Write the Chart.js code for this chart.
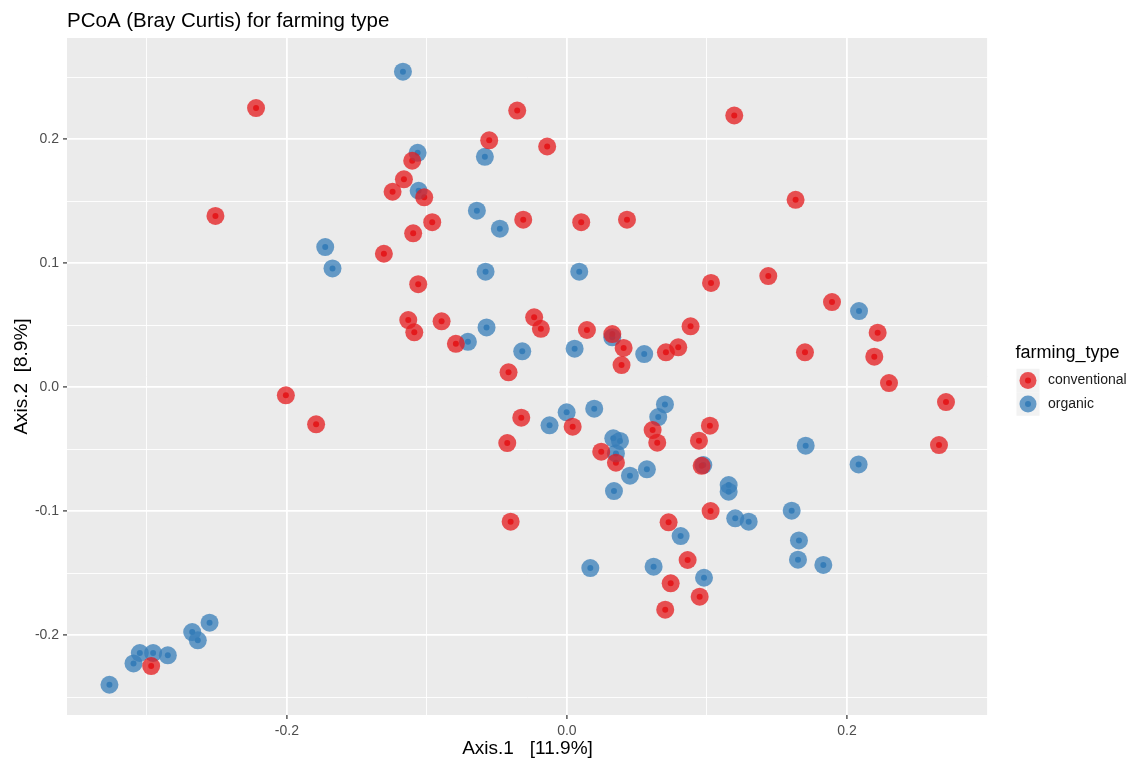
<!DOCTYPE html>
<html>
<head>
<meta charset="utf-8">
<title>PCoA (Bray Curtis) for farming type</title>
<script src="https://cdn.jsdelivr.net/npm/chart.js@4.4.1/dist/chart.umd.min.js"></script>
<style>
  html, body { margin: 0; padding: 0; background: #fff; }
  #wrap { width: 1137px; height: 763px; }
</style>
</head>
<body>
<div id="wrap"><canvas id="pcoa" width="1137" height="763"></canvas></div>
<script>
// PCoA coordinates
const groups = ["conventional", "organic"];

const convAxis1 = [-0.222, -0.251, -0.0355, 0.1195, -0.0555, -0.0141, -0.1105, -0.1164, -0.1245, -0.1019,
  -0.0962, -0.1098, -0.0312, 0.0102, 0.0429, -0.1307, -0.1062, 0.1029, 0.1438, 0.1633,
  0.1893, 0.2219, 0.2195, 0.23, 0.2707, 0.2657, 0.17, -0.1133, -0.109, -0.0895,
  -0.0793, -0.2007, -0.1791, -0.0234, -0.0186, -0.0417, 0.0143, 0.0324, 0.0405, 0.039,
  0.0707, 0.0795, 0.0883, -0.0326, 0.0041, -0.0426, 0.0245, 0.035, 0.0612, 0.0645,
  0.1021, 0.0943, 0.0962, 0.1026, 0.0726, -0.0402, 0.0862, 0.0741, 0.0948, 0.0702, -0.2969];
const convAxis2 = [0.225, 0.138, 0.223, 0.219, 0.199, 0.194, 0.1825, 0.1675, 0.1575, 0.153,
  0.133, 0.124, 0.135, 0.133, 0.135, 0.1075, 0.083, 0.084, 0.0895, 0.151,
  0.0685, 0.0438, 0.0245, 0.0032, -0.0121, -0.0468, 0.028, 0.054, 0.0441, 0.053,
  0.0349, -0.0067, -0.0301, 0.0562, 0.047, 0.0119, 0.046, 0.0427, 0.0315, 0.0177,
  0.028, 0.032, 0.049, -0.0247, -0.032, -0.0452, -0.0521, -0.061, -0.0347, -0.0449,
  -0.0312, -0.0433, -0.0635, -0.1, -0.1091, -0.1086, -0.1395, -0.1583, -0.1691, -0.1796, -0.225];

const orgAxis1 = [-0.1171, -0.1066, -0.1059, -0.0586, -0.0643, -0.0479, -0.0581, 0.0088, -0.1726, -0.1674,
  0.2086, -0.0707, -0.0574, -0.0319, 0.0324, 0.0055, 0.0552, -0.0124, -0.0002, 0.0195,
  0.0331, 0.0379, 0.035, 0.045, 0.0571, 0.0336, 0.07, 0.0652, 0.0974, 0.1155,
  0.1155, 0.1202, 0.1298, 0.1605, 0.1705, 0.2083, 0.1657, 0.165, 0.1831, 0.0812,
  0.0167, 0.0619, 0.0979, -0.3267, -0.3095, -0.305, -0.2955, -0.285, -0.2676, -0.2636, -0.2552];
const orgAxis2 = [0.2543, 0.1889, 0.1583, 0.1857, 0.1422, 0.1277, 0.093, 0.093, 0.1129, 0.0957,
  0.0613, 0.0365, 0.0481, 0.0288, 0.0401, 0.0309, 0.0266, -0.0309, -0.0204, -0.0175,
  -0.0414, -0.0435, -0.0535, -0.0715, -0.0664, -0.0839, -0.014, -0.0242, -0.0629, -0.079,
  -0.0844, -0.1059, -0.1086, -0.0997, -0.0473, -0.0624, -0.1237, -0.1392, -0.1435, -0.1202,
  -0.146, -0.1449, -0.1538, -0.2401, -0.2229, -0.2145, -0.2145, -0.2164, -0.1976, -0.2043, -0.19];

// grid breaks (major ones get labels)
const xBreaks = [-0.3, -0.2, -0.1, 0, 0.1, 0.2, 0.3];
const xLabelled = [-0.2, 0, 0.2];
const yBreaks = [-0.25, -0.2, -0.15, -0.1, -0.05, 0, 0.05, 0.1, 0.15, 0.2, 0.25];
const yLabelled = [-0.2, -0.1, 0, 0.1, 0.2];

const red = "#E41A1C";
const blue = "#377EB8";
const fontFamily = "'Liberation Sans', Arial, sans-serif";

function toPoints(xs, ys) {
  return xs.map((x, i) => ({ x: x, y: ys[i] }));
}
function isMajor(v, list) {
  return list.some(m => Math.abs(m - v) < 1e-9);
}

const convPts = toPoints(convAxis1, convAxis2);
const orgPts = toPoints(orgAxis1, orgAxis2);

// panel background + title + legend, ggplot style
const ggTheme = {
  id: "ggTheme",
  beforeDraw(chart) {
    const { ctx, chartArea } = chart;
    ctx.save();
    ctx.fillStyle = "#EBEBEB";
    ctx.fillRect(chartArea.left, chartArea.top, chartArea.right - chartArea.left, chartArea.bottom - chartArea.top);
    ctx.restore();
  },
  afterDraw(chart) {
    const { ctx, chartArea } = chart;
    ctx.save();
    ctx.fillStyle = "#000";
    ctx.font = "20.5px " + fontFamily;
    ctx.textBaseline = "alphabetic";
    ctx.fillText("PCoA (Bray Curtis) for farming type", chartArea.left, 27);

    // legend
    const lx = 1016.5;
    ctx.font = "18px " + fontFamily;
    ctx.fillText("farming_type", lx - 1, 358);
    const colors = [red, blue];
    groups.forEach((g, i) => {
      const cy = 380.5 + i * 23.5;
      ctx.fillStyle = "#F2F2F2";
      ctx.fillRect(lx, cy - 11.75, 23, 23.5);
      ctx.globalAlpha = 0.75;
      ctx.fillStyle = colors[i];
      ctx.beginPath();
      ctx.arc(lx + 11.5, cy, 8.5, 0, Math.PI * 2);
      ctx.fill();
      ctx.globalAlpha = 1;
      ctx.beginPath();
      ctx.arc(lx + 11.5, cy, 3, 0, Math.PI * 2);
      ctx.fill();
      ctx.fillStyle = "#1A1A1A";
      ctx.font = "14px " + fontFamily;
      ctx.textBaseline = "middle";
      ctx.fillText(g, lx + 31.5, cy);
    });
    ctx.restore();
  }
};

function bigDots(label, pts, color) {
  return {
    label: label,
    data: pts,
    backgroundColor: color + "BF",
    borderWidth: 0,
    pointRadius: 9,
    pointHoverRadius: 9
  };
}
function smallDots(label, pts, color) {
  return {
    label: label,
    data: pts,
    backgroundColor: color,
    borderWidth: 0,
    pointRadius: 3,
    pointHoverRadius: 3
  };
}

const tickFont = { family: fontFamily, size: 14 };
const titleFont = { family: fontFamily, size: 19 };

new Chart(document.getElementById("pcoa"), {
  type: "scatter",
  data: {
    datasets: [
      bigDots("conventional", convPts, red),
      bigDots("organic", orgPts, blue),
      smallDots("conventional", convPts, red),
      smallDots("organic", orgPts, blue)
    ]
  },
  options: {
    responsive: false,
    animation: false,
    layout: { padding: { top: 38, right: 149, left: 0, bottom: 0 } },
    plugins: {
      legend: { display: false },
      tooltip: { enabled: false }
    },
    scales: {
      x: {
        type: "linear",
        min: -0.357,
        max: 0.3007,
        afterBuildTicks: s => { s.ticks = xBreaks.map(v => ({ value: v })); },
        afterFit: s => { s.height = 48; },
        border: { display: false },
        grid: {
          color: "#FFFFFF",
          lineWidth: c => isMajor(c.tick.value, xLabelled) ? 1.8 : 0.9,
          tickColor: c => isMajor(c.tick.value, xLabelled) ? "#333333" : "rgba(0,0,0,0)",
          tickLength: 4,
          tickWidth: 1.2
        },
        ticks: {
          color: "#4D4D4D",
          font: tickFont,
          padding: 4,
          maxRotation: 0,
          autoSkip: false,
          callback: v => isMajor(v, xLabelled) ? v.toFixed(1) : ""
        },
        title: {
          display: true,
          text: "Axis.1   [11.9%]",
          color: "#000",
          font: titleFont,
          padding: { top: 0, bottom: 3 }
        }
      },
      y: {
        type: "linear",
        min: -0.2645,
        max: 0.2815,
        afterBuildTicks: s => { s.ticks = yBreaks.map(v => ({ value: v })); },
        afterFit: s => { s.width = 67; },
        border: { display: false },
        grid: {
          color: "#FFFFFF",
          lineWidth: c => isMajor(c.tick.value, yLabelled) ? 1.8 : 0.9,
          tickColor: c => isMajor(c.tick.value, yLabelled) ? "#333333" : "rgba(0,0,0,0)",
          tickLength: 4,
          tickWidth: 1.2
        },
        ticks: {
          color: "#4D4D4D",
          font: tickFont,
          padding: 4,
          autoSkip: false,
          callback: v => isMajor(v, yLabelled) ? v.toFixed(1) : ""
        },
        title: {
          display: true,
          text: "Axis.2  [8.9%]",
          color: "#000",
          font: titleFont,
          padding: { top: 10, bottom: 0 }
        }
      }
    }
  },
  plugins: [ggTheme]
});
</script>
</body>
</html>
